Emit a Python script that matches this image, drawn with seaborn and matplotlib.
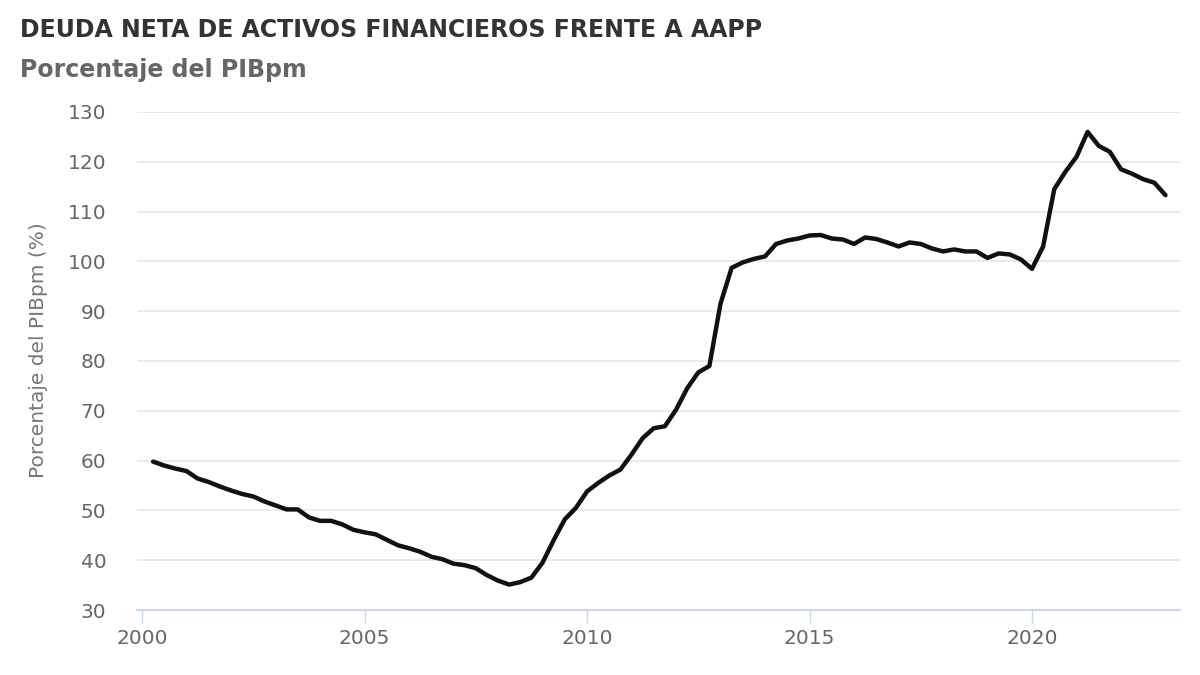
import numpy as np
import pandas as pd
import matplotlib
matplotlib.use("Agg")
import matplotlib.pyplot as plt
import seaborn as sns

# Quarterly series (end of quarter), % of GDP
quarters = pd.period_range("2000Q1", "2022Q4", freq="Q")
values = [
    59.8, 59.0, 58.4, 57.9,   # 2000
    56.4, 55.7, 54.8, 54.0,   # 2001
    53.3, 52.8, 51.8, 51.0,   # 2002
    50.2, 50.2, 48.6, 47.9,   # 2003
    47.9, 47.2, 46.1, 45.6,   # 2004
    45.2, 44.1, 43.0, 42.4,   # 2005
    41.7, 40.7, 40.2, 39.3,   # 2006
    39.0, 38.4, 37.0, 35.9,   # 2007
    35.1, 35.6, 36.5, 39.5,   # 2008
    44.0, 48.2, 50.5, 53.8,   # 2009
    55.5, 57.0, 58.2, 61.2,   # 2010
    64.5, 66.5, 66.9, 70.2,   # 2011
    74.5, 77.7, 79.0, 91.5,   # 2012
    98.7, 99.8, 100.5, 101.0, # 2013
    103.5, 104.2, 104.6, 105.2,  # 2014
    105.3, 104.6, 104.4, 103.5,  # 2015
    104.8, 104.5, 103.8, 103.0,  # 2016
    103.8, 103.5, 102.6, 102.0,  # 2017
    102.4, 102.0, 102.0, 100.7,  # 2018
    101.6, 101.4, 100.4, 98.5,   # 2019
    103.0, 114.5, 118.0, 121.0,  # 2020
    126.0, 123.2, 122.0, 118.5,  # 2021
    117.6, 116.5, 115.8, 113.3,  # 2022
]
y_ticks = [30, 40, 50, 60, 70, 80, 90, 100, 110, 120, 130]
x_ticks = [2000, 2005, 2010, 2015, 2020]

title = "DEUDA NETA DE ACTIVOS FINANCIEROS FRENTE A AAPP"
subtitle = "Porcentaje del PIBpm"
ylabel = "Porcentaje del PIBpm (%)"

# fractional year at end of each quarter
t = [p.year + p.quarter / 4 for p in quarters]
df = pd.DataFrame({"t": t, "v": values})

sns.set_theme(style="white")
plt.rcParams["font.family"] = ["DejaVu Sans"]

fig = plt.figure(figsize=(12, 6.75), dpi=100)
ax = fig.add_axes([137 / 1200, 1 - 610 / 675, (1180 - 137) / 1200, (610 - 112) / 675])

sns.lineplot(data=df, x="t", y="v", ax=ax, color="#111111", linewidth=3.2,
             solid_joinstyle="round", solid_capstyle="round", clip_on=False)

ax.set_xlim(2000 - 5 / 44.5, 2000 + 1038 / 44.5)
ax.set_ylim(30, 130)
ax.set_yticks(y_ticks)
ax.set_xticks(x_ticks)
ax.set_yticklabels([str(v) for v in y_ticks])
ax.set_xticklabels([str(v) for v in x_ticks])

ax.grid(axis="y", color="#e6e6e6", linewidth=1.2)
ax.grid(axis="x", visible=False)
ax.set_axisbelow(True)
for s in ["top", "right", "left"]:
    ax.spines[s].set_visible(False)
ax.spines["bottom"].set_color("#ccd6eb")
ax.spines["bottom"].set_linewidth(1.5)

ax.tick_params(axis="y", length=0, pad=22, labelsize=14.5, labelcolor="#666666")
ax.tick_params(axis="x", length=9, width=1, color="#ccd6eb", pad=5,
               labelsize=14.5, labelcolor="#666666", direction="out", bottom=True)
ax.set_xlabel("")
ax.set_ylabel("")

fig.text(39 / 1200, 1 - 350 / 675, ylabel, rotation=90, ha="center", va="center",
         fontsize=14.5, color="#777777")
fig.text(20 / 1200, 1 - 30 / 675, title, ha="left", va="center",
         fontsize=17, fontweight="bold", color="#333333")
fig.text(20 / 1200, 1 - 70 / 675, subtitle, ha="left", va="center",
         fontsize=17, fontweight="bold", color="#666666")

fig.savefig("out.png", dpi=100, facecolor="white")
